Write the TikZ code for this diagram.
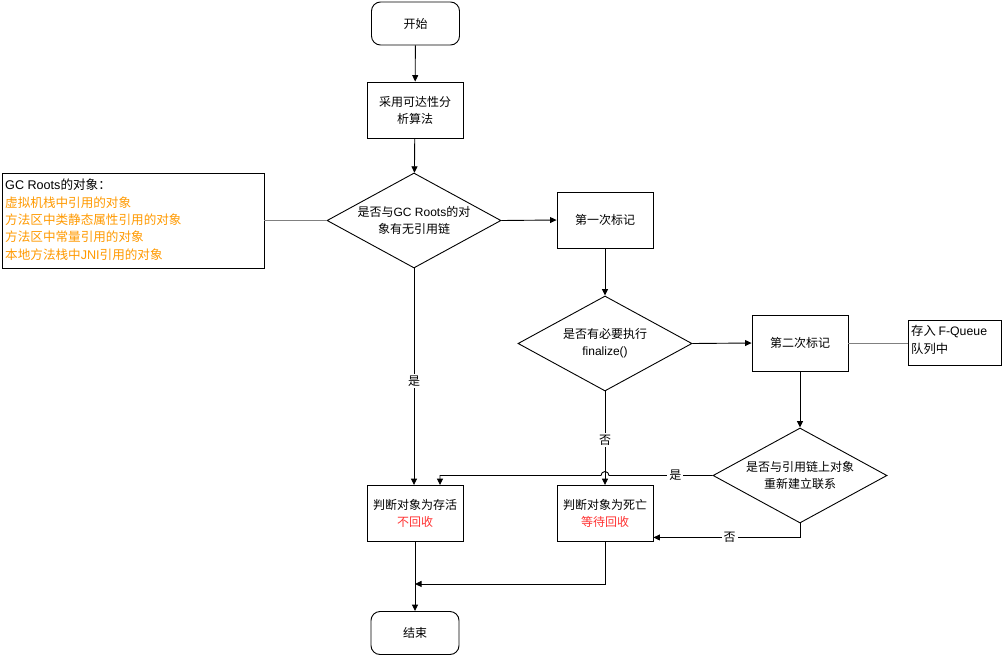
\documentclass[tikz,border=0pt]{standalone}
\usepackage{fontspec}
\setmainfont{Noto Sans CJK SC}
\newfontfamily\lat{Liberation Sans}
\usetikzlibrary{arrows.meta,shapes.geometric,calc}
\definecolor{orng}{HTML}{FF9900}
\definecolor{rd}{HTML}{FF3333}
\definecolor{gl}{HTML}{808080}
\tikzset{
  base/.style={draw=black,line width=0.9pt,font=\fontsize{12}{17}\selectfont,align=center,inner sep=0pt},
  term/.style={base,rounded corners=9pt,minimum width=88pt,minimum height=43pt},
  proc/.style={base,minimum width=96pt,minimum height=56pt},
  dec/.style={base,diamond,aspect=1.83,minimum width=174pt,minimum height=95pt},
  arr/.style={line width=0.9pt,-{Triangle[length=6.5pt,width=6pt]}},
  thin/.style={line width=0.9pt,draw=gl},
  lbl/.style={fill=white,font=\fontsize{12}{14}\selectfont,inner sep=2pt}
}
\begin{document}
\begin{tikzpicture}[x=1pt,y=-1pt]
\useasboundingbox (0,0) rectangle (1005,656);
\node[term] (start) at (415.5,23.5) {开始};
\node[proc] (algo) at (415,110) {采用可达性分\\析算法};
\node[dec] (d1) at (414,220.5) {是否与{\lat GC Roots}的对\\象有无引用链};
\node[draw=black,line width=0.9pt,minimum width=262pt,minimum height=95pt,inner sep=0pt] (gc) at (133,220.5) {};
\node[anchor=north west,align=left,inner sep=0pt,font=\fontsize{12.6}{17.3}\selectfont] (gctext) at (5,179) {{\lat GC Roots}的对象：\\\textcolor{orng}{虚拟机栈中引用的对象}\\\textcolor{orng}{方法区中类静态属性引用的对象}\\\textcolor{orng}{方法区中常量引用的对象}\\\textcolor{orng}{本地方法栈中{\lat JNI}引用的对象}};
\node[proc] (m1) at (605,220) {第一次标记};
\node[dec] (d2) at (605,343.5) {是否有必要执行\\{\lat finalize()}};
\node[proc] (m2) at (800,343) {第二次标记};
\node[draw=black,line width=0.9pt,minimum width=93pt,minimum height=45pt,inner sep=0pt] (fq) at (954.5,343) {};
\node[anchor=north west,align=left,inner sep=0pt,font=\fontsize{12.3}{18}\selectfont] (fqtext) at (911,325) {存入 {\lat F-Queue}\\队列中};
\node[dec] (d3) at (800,475.5) {是否与引用链上对象\\重新建立联系};
\node[proc] (alive) at (415,513.5) {判断对象为存活\\\textcolor{rd}{不回收}};
\node[proc] (dead) at (605,513.5) {判断对象为死亡\\\textcolor{rd}{等待回收}};
\node[term] (end) at (415,633) {结束};

\draw[arr] (start) -- (algo);
\draw[arr] (algo) -- (d1);
\draw[thin] (gc.east) -- (d1.west);
\draw[arr] (d1.east) -- (m1.west);
\draw[arr] (d1.south) -- (alive.north -| d1.south) node[lbl,pos=0.52] {是};
\draw[arr] (m1) -- (d2);
\draw[arr] (d2.east) -- (m2.west);
\draw[thin] (m2.east) -- (fq.west);
\draw[arr] (m2) -- (d3);
\draw[arr] (d2.south) -- (dead.north) node[lbl,pos=0.52] {否};
\coordinate (jump) at (dead.north |- d3.west);
\draw[arr] (d3.west) -- ([xshift=4pt]jump) node[lbl,pos=0.36] {是}
  arc[start angle=0,end angle=180,radius=4pt]
  -- ([xshift=25pt]alive.north |- d3.west) -- ([xshift=25pt]alive.north);
\draw[arr] (d3.south) -- ++(0,14) coordinate (n3) -- (dead.east |- n3) node[lbl,pos=0.48] {否};
\draw[arr] (alive.south) -- (end.north);
\draw[arr] (dead.south) -- ++(0,42) coordinate (m4) -- (alive.south |- m4);
\end{tikzpicture}
\end{document}
